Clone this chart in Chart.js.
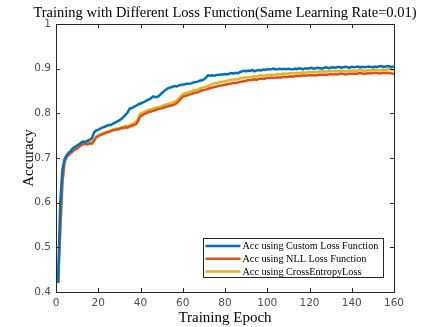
<!DOCTYPE html>
<html><head><meta charset="utf-8">
<script src="https://cdn.jsdelivr.net/npm/chart.js@4/dist/chart.umd.min.js"></script>
<style>html,body{margin:0;padding:0;background:#fff}#wrap{width:436px;height:327px}</style>
</head><body><div id="wrap"><canvas id="c" width="436" height="327"></canvas></div>
<script>
const titleText = "Training with Different Loss Function(Same Learning Rate=0.01)";
const xTitle = "Training Epoch";
const yTitle = "Accuracy";
const seriesNames = ["Acc using Custom Loss Function","Acc using NLL Loss Function","Acc using CrossEntropyLoss"];
const xTicks = [0,20,40,60,80,100,120,140,160];
const yTicks = [0.4,0.5,0.6,0.7,0.8,0.9,1];
const epochs = Array.from({length:160},(_,i)=>i+1);

const accCustom = [
0.420,0.600,0.672,0.697,0.706,0.712,0.716,0.722,0.725,0.728,
0.731,0.735,0.737,0.736,0.739,0.741,0.744,0.757,0.762,0.763,
0.766,0.768,0.770,0.772,0.774,0.774,0.777,0.779,0.782,0.784,
0.788,0.792,0.797,0.803,0.811,0.812,0.815,0.817,0.820,0.822,
0.824,0.826,0.829,0.831,0.834,0.838,0.836,0.837,0.840,0.845,
0.849,0.853,0.856,0.858,0.859,0.861,0.860,0.862,0.864,0.864,
0.865,0.866,0.866,0.867,0.869,0.870,0.871,0.873,0.874,0.876,
0.880,0.885,0.884,0.885,0.884,0.886,0.886,0.887,0.887,0.888,
0.887,0.889,0.890,0.889,0.891,0.890,0.892,0.894,0.895,0.894,
0.896,0.895,0.897,0.894,0.896,0.897,0.896,0.898,0.897,0.899,
0.898,0.899,0.900,0.898,0.899,0.900,0.899,0.900,0.899,0.900,
0.899,0.898,0.900,0.899,0.901,0.900,0.899,0.901,0.900,0.901,
0.902,0.900,0.901,0.902,0.901,0.900,0.902,0.903,0.901,0.902,
0.903,0.902,0.903,0.904,0.902,0.903,0.904,0.903,0.902,0.904,
0.903,0.904,0.905,0.903,0.904,0.903,0.904,0.905,0.904,0.903,
0.905,0.904,0.905,0.906,0.904,0.905,0.906,0.905,0.904,0.905];

const accNLL = [
0.420,0.540,0.645,0.691,0.702,0.707,0.711,0.715,0.719,0.721,
0.725,0.729,0.731,0.732,0.730,0.733,0.732,0.738,0.746,0.749,
0.751,0.753,0.755,0.757,0.758,0.760,0.762,0.763,0.764,0.765,
0.767,0.767,0.769,0.768,0.771,0.772,0.774,0.776,0.784,0.794,
0.796,0.799,0.801,0.803,0.804,0.806,0.807,0.809,0.810,0.811,
0.813,0.814,0.816,0.817,0.818,0.820,0.822,0.826,0.832,0.837,
0.839,0.840,0.842,0.843,0.845,0.846,0.847,0.849,0.851,0.852,
0.853,0.855,0.856,0.858,0.859,0.860,0.861,0.862,0.863,0.864,
0.865,0.866,0.867,0.868,0.868,0.869,0.870,0.871,0.872,0.873,
0.874,0.874,0.875,0.876,0.875,0.877,0.878,0.877,0.878,0.879,
0.879,0.880,0.879,0.880,0.881,0.880,0.881,0.882,0.881,0.882,
0.883,0.882,0.883,0.884,0.883,0.884,0.885,0.884,0.885,0.886,
0.885,0.886,0.885,0.886,0.887,0.886,0.887,0.886,0.887,0.888,
0.887,0.888,0.887,0.888,0.889,0.888,0.887,0.888,0.889,0.888,
0.889,0.888,0.889,0.890,0.889,0.888,0.889,0.890,0.889,0.890,
0.891,0.890,0.889,0.890,0.891,0.890,0.891,0.890,0.889,0.888];

const accCE = [
0.422,0.530,0.640,0.690,0.703,0.709,0.713,0.718,0.721,0.724,
0.727,0.731,0.733,0.734,0.734,0.736,0.735,0.740,0.748,0.751,
0.753,0.755,0.757,0.759,0.760,0.762,0.764,0.765,0.766,0.767,
0.769,0.770,0.772,0.771,0.774,0.776,0.778,0.781,0.790,0.800,
0.801,0.804,0.806,0.808,0.809,0.811,0.812,0.814,0.815,0.816,
0.818,0.820,0.821,0.822,0.824,0.826,0.828,0.832,0.838,0.843,
0.845,0.846,0.848,0.849,0.851,0.852,0.853,0.855,0.857,0.858,
0.860,0.861,0.863,0.866,0.867,0.868,0.869,0.870,0.871,0.872,
0.873,0.874,0.875,0.876,0.876,0.877,0.878,0.879,0.880,0.880,
0.881,0.881,0.882,0.883,0.882,0.884,0.885,0.884,0.885,0.886,
0.886,0.887,0.886,0.887,0.888,0.887,0.888,0.889,0.888,0.889,
0.890,0.889,0.890,0.891,0.890,0.891,0.892,0.891,0.892,0.893,
0.892,0.893,0.892,0.893,0.894,0.893,0.894,0.893,0.894,0.895,
0.894,0.895,0.894,0.895,0.896,0.895,0.894,0.895,0.896,0.895,
0.896,0.895,0.896,0.897,0.896,0.895,0.896,0.897,0.896,0.897,
0.898,0.897,0.896,0.897,0.898,0.897,0.898,0.899,0.898,0.897];

const colors = ["#0072BD","#D95319","#EDB120"];
const serif = "'Liberation Serif','Times New Roman',serif";
const sans = "'DejaVu Sans',sans-serif";

function pts(arr){ return epochs.map((e,i)=>({x:e,y:arr[i]})); }

const boxPlugin = {
  id:'box',
  afterDraw(chart){
    const {ctx, chartArea:a, scales:{x,y}} = chart;
    ctx.save();
    ctx.fillStyle = '#000';
    ctx.font = "14.5px " + serif;
    ctx.textAlign = 'center';
    ctx.textBaseline = 'middle';
    ctx.fillText(titleText, (a.left+a.right)/2, 13);
    ctx.strokeStyle = '#262626';
    ctx.lineWidth = 1;
    ctx.beginPath();
    xTicks.forEach(v=>{
      const p = Math.round(x.getPixelForValue(v))+0.5;
      ctx.moveTo(p,a.bottom); ctx.lineTo(p,a.bottom-4);
      ctx.moveTo(p,a.top); ctx.lineTo(p,a.top+4);
    });
    yTicks.forEach(v=>{
      const p = Math.round(y.getPixelForValue(v))+0.5;
      ctx.moveTo(a.left,p); ctx.lineTo(a.left+4,p);
      ctx.moveTo(a.right,p); ctx.lineTo(a.right-4,p);
    });
    ctx.stroke();
    ctx.strokeRect(Math.round(a.left)+0.5, Math.round(a.top)+0.5, Math.round(a.right-a.left), Math.round(a.bottom-a.top));
    const lx = 203.5, ly = 238.5, lw = 180, lh = 39;
    ctx.fillStyle = '#fff';
    ctx.fillRect(lx,ly,lw,lh);
    ctx.strokeStyle = '#262626';
    ctx.strokeRect(lx,ly,lw,lh);
    ctx.font = "10.2px " + serif;
    ctx.textBaseline = 'middle';
    ctx.textAlign = 'left';
    seriesNames.forEach((n,i)=>{
      const yy = ly + 7.5 + i*12.8;
      ctx.strokeStyle = colors[i];
      ctx.lineWidth = 2.5;
      ctx.beginPath(); ctx.moveTo(lx+2,yy); ctx.lineTo(lx+37,yy); ctx.stroke();
      ctx.fillStyle = '#000';
      ctx.fillText(n, lx+39, yy+0.5);
    });
    ctx.restore();
  }
};

new Chart(document.getElementById('c'), {
  type:'line',
  data:{
    datasets:[
      {label:seriesNames[0], data:pts(accCustom), borderColor:colors[0], borderWidth:2.5, pointRadius:0, tension:0},
      {label:seriesNames[1], data:pts(accNLL), borderColor:colors[1], borderWidth:2.5, pointRadius:0, tension:0},
      {label:seriesNames[2], data:pts(accCE), borderColor:colors[2], borderWidth:2.5, pointRadius:0, tension:0}
    ]
  },
  options:{
    responsive:false, animation:false,
    layout:{padding:{left:0,right:42,top:24,bottom:0}},
    plugins:{
      legend:{display:false},
      tooltip:{enabled:false},
      title:{display:false}
    },
    scales:{
      x:{type:'linear', min:0, max:160,
        afterBuildTicks(s){ s.ticks = xTicks.map(v=>({value:v})); },
        afterFit(s){ s.height = 35; },
        grid:{display:false, drawTicks:false},
        border:{display:false},
        ticks:{padding:5, color:'#4d4d4d', font:{family:sans, size:10.5}, maxRotation:0},
        title:{display:true, text:xTitle, color:'#000', font:{family:serif, size:15}, padding:{top:0,bottom:0}}
      },
      y:{min:0.4, max:1,
        afterBuildTicks(s){ s.ticks = yTicks.map(v=>({value:v})); },
        afterFit(s){ s.width = 56; },
        grid:{display:false, drawTicks:false},
        border:{display:false},
        ticks:{padding:5, color:'#4d4d4d', font:{family:sans, size:10.5}, callback:v=>String(Math.round(v*10)/10)},
        title:{display:true, text:yTitle, color:'#000', font:{family:serif, size:15}, padding:{top:20,bottom:0}}
      }
    }
  },
  plugins:[boxPlugin]
});
</script></body></html>
